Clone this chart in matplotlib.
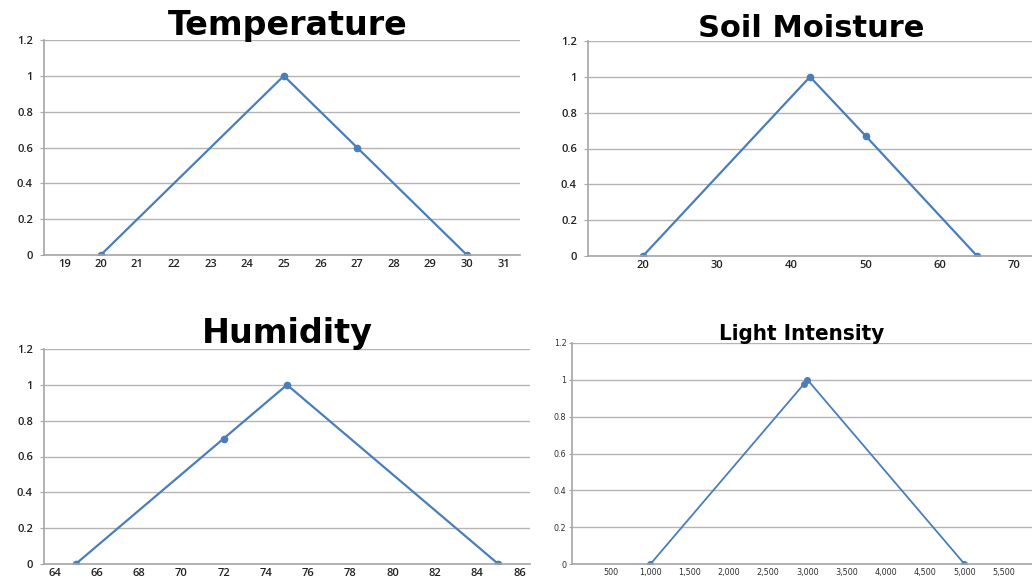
import matplotlib
matplotlib.use("Agg")
from matplotlib import pyplot as plt
from matplotlib.ticker import FuncFormatter

W, H = 1032, 579

# membership function data
temp_x = [20, 25, 27, 30]
temp_y = [0, 1, 0.6, 0]
temp_ticks = list(range(19, 32))

soil_x = [20, 42.5, 50, 65]
soil_y = [0, 1, 0.67, 0]
soil_ticks = [20, 30, 40, 50, 60, 70]

hum_x = [65, 72, 75, 85]
hum_y = [0, 0.7, 1, 0]
hum_ticks = list(range(64, 87, 2))

light_x = [1000, 2960, 3000, 5000]
light_y = [0, 0.98, 1, 0]
light_ticks = [500, 1000, 1500, 2000, 2500, 3000, 3500, 4000, 4500, 5000, 5500]

y_ticks = [0, 0.2, 0.4, 0.6, 0.8, 1, 1.2]

LINE = "#4a7ebb"
GRID = "#b4b4b4"


def px_axes(fig, left, top, right, bottom):
    return fig.add_axes([left / W, 1 - bottom / H, (right - left) / W, (bottom - top) / H])


def style(ax, xlim, xticks, small=False):
    ax.set_xlim(*xlim)
    ax.set_ylim(0, 1.2)
    ax.set_xticks(xticks)
    ax.set_yticks(y_ticks)
    ax.yaxis.set_major_formatter(FuncFormatter(lambda v, p: f"{v:g}"))
    ax.grid(axis="y", color=GRID, linewidth=1.0)
    ax.set_axisbelow(True)
    for s in ["top", "right"]:
        ax.spines[s].set_visible(False)
    for s in ["left", "bottom"]:
        ax.spines[s].set_color("#a6a6a6")
        ax.spines[s].set_linewidth(1.2)
    if small:
        ax.tick_params(axis="y", length=2, pad=2, color="#a6a6a6", labelsize=6.5)
        ax.tick_params(axis="x", length=0, pad=3, labelsize=6.5)
        for lab in ax.get_xticklabels() + ax.get_yticklabels():
            lab.set_family("DejaVu Sans")
            lab.set_stretch("condensed")
            lab.set_color("#303030")
    else:
        ax.tick_params(axis="y", length=3, pad=5, color="#a6a6a6", labelsize=8)
        ax.tick_params(axis="x", length=0, pad=3, labelsize=8)
        for lab in ax.get_xticklabels() + ax.get_yticklabels():
            lab.set_family(["Open Sans", "DejaVu Sans"])
            lab.set_fontweight("semibold")
            lab.set_color("#222222")


fig = plt.figure(figsize=(W / 100, H / 100), dpi=100)

ax1 = px_axes(fig, 44, 40, 520, 255)
ax1.plot(temp_x, temp_y, color=LINE, lw=1.6, marker="o", ms=4.5)
style(ax1, (18.45, 31.45), temp_ticks)

ax2 = px_axes(fig, 588, 41, 1032, 256)
ax2.plot(soil_x, soil_y, color=LINE, lw=1.6, marker="o", ms=4.5)
style(ax2, (12.6, 72.4), soil_ticks)

ax3 = px_axes(fig, 44, 349, 530, 564)
ax3.plot(hum_x, hum_y, color=LINE, lw=1.6, marker="o", ms=4.5)
style(ax3, (63.5, 86.5), hum_ticks)

ax4 = px_axes(fig, 572, 343, 1032, 564)
ax4.plot(light_x, light_y, color=LINE, lw=1.3, marker="o", ms=4)
style(ax4, (0, 5860), light_ticks, small=True)
ax4.xaxis.set_major_formatter(FuncFormatter(lambda v, p: f"{int(v):,}"))

title_font = ["DejaVu Sans"]
fig.text(288 / W, 1 - 35 / H, "Temperature", ha="center", va="baseline",
         fontsize=24, fontweight="heavy", family=title_font)
fig.text(811 / W, 1 - 37 / H, "Soil Moisture", ha="center", va="baseline",
         fontsize=22, fontweight="heavy", family=title_font)
fig.text(287 / W, 1 - 343 / H, "Humidity", ha="center", va="baseline",
         fontsize=24, fontweight="heavy", family=title_font)
fig.text(802 / W, 1 - 340 / H, "Light Intensity", ha="center", va="baseline",
         fontsize=16, fontweight="heavy", stretch="condensed", family=title_font)

fig.savefig("out.png", dpi=100)
